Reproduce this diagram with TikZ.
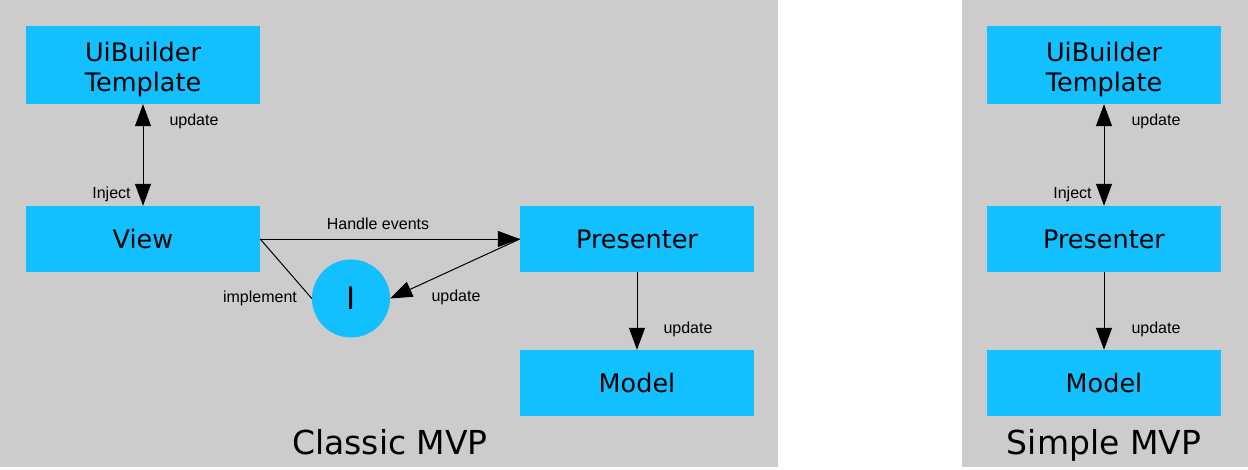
\documentclass[tikz,border=0pt]{standalone}
\usepackage{fontspec}
\setmainfont{DejaVu Sans}
\newfontfamily\lblfont{Liberation Sans}
\usetikzlibrary{arrows.meta}
\definecolor{boxblue}{RGB}{18,191,255}
\definecolor{panelgray}{RGB}{204,204,204}
\begin{document}
\begin{tikzpicture}[x=1pt,y=-1pt,
  box/.style={fill=boxblue, minimum width=234pt, inner sep=0pt, font=\fontsize{25.5}{30}\selectfont, align=center},
  tallbox/.style={box, minimum height=78pt, text depth=0pt},
  shortbox/.style={box, minimum height=66pt},
  uitext/.style={inner sep=0pt, font=\fontsize{25.5}{30}\selectfont, align=center, text depth=0pt},
  lbl/.style={font=\lblfont\fontsize{16}{19}\selectfont, inner sep=0pt, anchor=base},
  titletext/.style={font=\fontsize{33}{40}\selectfont, inner sep=0pt, anchor=base},
  conn/.style={line width=1pt},
  arr/.style={conn, -{Triangle[length=22pt,width=16pt]}},
  darr/.style={conn, {Triangle[length=22pt,width=16pt]}-{Triangle[length=22pt,width=16pt]}},
]
\useasboundingbox (0,0) rectangle (1248,469);
\fill[white] (0,0) rectangle (1248,469);
\fill[panelgray] (0,0) rectangle (778,467);
\fill[panelgray] (962,0) rectangle (1248,467);

% Classic MVP
\node[tallbox] (ui1) at (143,65) {};
\node[uitext] (ui1t) at (143,67) {UiBuilder\\Template};
\node[shortbox] (view) at (143,239) {View};
\node[shortbox] (pres1) at (637,239) {Presenter};
\node[shortbox] (model1) at (637,383) {Model};
\node[circle, fill=boxblue, minimum size=78pt, inner sep=0pt, font=\fontsize{31}{36}\selectfont] (iface) at (351,298.5) {I};

\draw[darr] (ui1.south) -- (view.north);
\draw[arr] (view.east) -- (pres1.west);
\draw[conn] (view.east) -- (iface.west);
\draw[arr] (pres1.west) -- (iface.east);
\draw[arr] (pres1.south) -- (model1.north);

\node[lbl] (l1) at (194,125) {update};
\node[lbl] (l2) at (111.5,198) {Inject};
\node[lbl] (l3) at (378,229) {Handle events};
\node[lbl] (l4) at (260,302) {implement};
\node[lbl] (l5) at (456,301) {update};
\node[lbl] (l6) at (688,333) {update};
\node[titletext] (t1) at (390,454) {Classic MVP};

% Simple MVP
\node[tallbox] (ui2) at (1104,65) {};
\node[uitext] (ui2t) at (1104,67) {UiBuilder\\Template};
\node[shortbox] (pres2) at (1104,239) {Presenter};
\node[shortbox] (model2) at (1104,383) {Model};
\draw[darr] (ui2.south) -- (pres2.north);
\draw[arr] (pres2.south) -- (model2.north);
\node[lbl] (l7) at (1156,125) {update};
\node[lbl] (l8) at (1072.5,198) {Inject};
\node[lbl] (l9) at (1156,333) {update};
\node[titletext] (t2) at (1104,454) {Simple MVP};
\end{tikzpicture}
\end{document}
